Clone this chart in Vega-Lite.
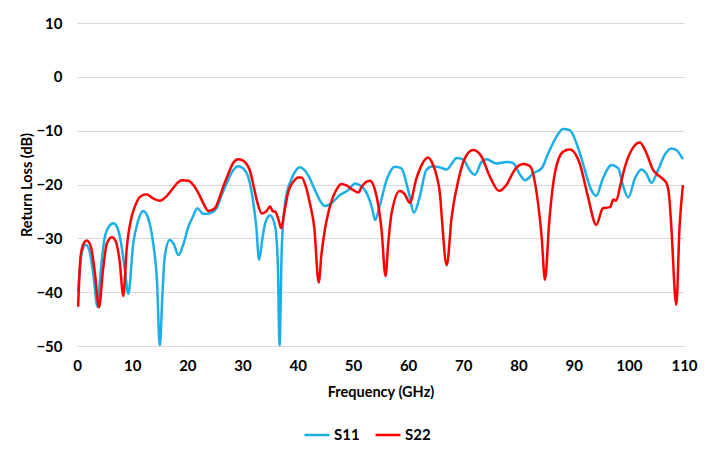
{
  "$schema": "https://vega.github.io/schema/vega-lite/v6.json",
  "width": 607,
  "height": 323,
  "autosize": {"type": "none"},
  "padding": {"left": 77, "top": 23, "right": 20, "bottom": 107},
  "background": "white",
  "config": {
    "view": {"stroke": null},
    "font": "Lato",
    "axis": {"labelFont": "Lato", "titleFont": "Lato", "labelFontWeight": "bold", "titleFontWeight": "bold", "labelFontSize": 15, "titleFontSize": 14.5, "labelColor": "#000000", "titleColor": "#000000", "gridColor": "#D9D9D9", "gridWidth": 1.2}
  },
  "datasets": {
    "s11": [
      {"f":0.2,"db":-40},{"f":0.8,"db":-33},{"f":1.6,"db":-31.2},{"f":2.3,"db":-32.5},{"f":3.0,"db":-37},{"f":3.7,"db":-42.7},{"f":4.3,"db":-36},{"f":5.0,"db":-30},{"f":5.8,"db":-27.8},{"f":6.6,"db":-27.2},{"f":7.3,"db":-28},{"f":8.0,"db":-31},{"f":8.7,"db":-36},{"f":9.3,"db":-40.3},{"f":10.2,"db":-30.9},{"f":11.0,"db":-27},{"f":12.0,"db":-24.9},{"f":12.8,"db":-26},{"f":13.8,"db":-30.9},{"f":14.5,"db":-38},{"f":15.0,"db":-50},{"f":15.5,"db":-40},{"f":15.9,"db":-33.4},{"f":16.8,"db":-30.3},{"f":17.5,"db":-31},{"f":18.4,"db":-33.1},{"f":19.3,"db":-31},{"f":20.2,"db":-27.8},{"f":21.0,"db":-26},{"f":21.8,"db":-24.4},{"f":22.9,"db":-25.5},{"f":24.4,"db":-25.2},{"f":25.3,"db":-24.4},{"f":26.2,"db":-22},{"f":27.1,"db":-19.8},{"f":28.2,"db":-17.5},{"f":29.2,"db":-16.6},{"f":30.1,"db":-17},{"f":31.0,"db":-18.5},{"f":31.9,"db":-23},{"f":32.5,"db":-28},{"f":33.0,"db":-34},{"f":33.6,"db":-30},{"f":34.1,"db":-27.2},{"f":35.0,"db":-25.7},{"f":35.9,"db":-27.8},{"f":36.4,"db":-35},{"f":36.7,"db":-50},{"f":37.1,"db":-32},{"f":37.7,"db":-23.5},{"f":38.9,"db":-18.9},{"f":39.6,"db":-17.5},{"f":40.4,"db":-16.8},{"f":41.2,"db":-17.3},{"f":42.2,"db":-18.9},{"f":43.1,"db":-21},{"f":44.0,"db":-22.9},{"f":44.9,"db":-24.0},{"f":46.1,"db":-23.5},{"f":47.6,"db":-22},{"f":49.2,"db":-21},{"f":50.4,"db":-19.8},{"f":51.2,"db":-20.1},{"f":52.0,"db":-20.8},{"f":52.8,"db":-22.3},{"f":53.5,"db":-24.5},{"f":54.0,"db":-26.6},{"f":54.9,"db":-23.8},{"f":56.1,"db":-19.2},{"f":57.0,"db":-17.2},{"f":57.6,"db":-16.7},{"f":58.8,"db":-17.0},{"f":60.0,"db":-21.0},{"f":61.1,"db":-25.2},{"f":62.1,"db":-22.3},{"f":63.3,"db":-17.3},{"f":64.5,"db":-16.6},{"f":65.7,"db":-16.8},{"f":67.0,"db":-17.2},{"f":68.0,"db":-16},{"f":68.8,"db":-15.1},{"f":70.0,"db":-15.4},{"f":71.2,"db":-17.4},{"f":72.1,"db":-18.2},{"f":73.3,"db":-15.8},{"f":74.2,"db":-15.3},{"f":76.0,"db":-16.1},{"f":77.8,"db":-15.8},{"f":79.0,"db":-16.0},{"f":80.3,"db":-18.2},{"f":81.2,"db":-19.2},{"f":82.7,"db":-17.9},{"f":84.2,"db":-17.0},{"f":85.4,"db":-14.2},{"f":86.9,"db":-11.1},{"f":88.1,"db":-9.7},{"f":89.3,"db":-9.9},{"f":89.9,"db":-10.8},{"f":90.8,"db":-13.2},{"f":91.7,"db":-16.1},{"f":92.5,"db":-19},{"f":93.2,"db":-21.0},{"f":94.1,"db":-22.1},{"f":95.3,"db":-18.9},{"f":96.9,"db":-16.4},{"f":98.1,"db":-17.0},{"f":99.0,"db":-20.4},{"f":99.9,"db":-22.4},{"f":101.1,"db":-18.9},{"f":102.3,"db":-17.2},{"f":103.2,"db":-18},{"f":104.1,"db":-19.7},{"f":105.3,"db":-17.3},{"f":106.5,"db":-14.5},{"f":107.7,"db":-13.3},{"f":108.6,"db":-13.6},{"f":109.8,"db":-15.3}
    ],
    "s22": [
      {"f":0.2,"db":-42.7},{"f":0.6,"db":-34},{"f":1.0,"db":-31.5},{"f":1.75,"db":-30.4},{"f":2.5,"db":-31.5},{"f":3.2,"db":-36},{"f":4.0,"db":-42.8},{"f":4.7,"db":-36},{"f":5.4,"db":-31},{"f":6.3,"db":-29.8},{"f":7.0,"db":-30.5},{"f":7.7,"db":-34},{"f":8.4,"db":-40.7},{"f":9.0,"db":-32},{"f":9.9,"db":-26},{"f":10.6,"db":-23.8},{"f":11.4,"db":-22.3},{"f":12.6,"db":-21.8},{"f":13.8,"db":-22.6},{"f":15.0,"db":-23},{"f":16.2,"db":-22.2},{"f":17.4,"db":-20.7},{"f":18.3,"db":-19.6},{"f":19.0,"db":-19.2},{"f":20.2,"db":-19.3},{"f":21.0,"db":-20},{"f":22.0,"db":-21.6},{"f":22.9,"db":-23.5},{"f":23.8,"db":-24.9},{"f":25.0,"db":-24.4},{"f":25.8,"db":-22.5},{"f":26.5,"db":-20.4},{"f":27.5,"db":-17.8},{"f":28.3,"db":-16},{"f":29.2,"db":-15.3},{"f":30.0,"db":-15.5},{"f":31.3,"db":-17.3},{"f":31.9,"db":-19.8},{"f":32.6,"db":-23},{"f":33.5,"db":-25.4},{"f":34.3,"db":-25},{"f":35.0,"db":-24.1},{"f":35.5,"db":-25},{"f":35.9,"db":-25.0},{"f":36.5,"db":-26.5},{"f":37.0,"db":-28.1},{"f":37.6,"db":-25},{"f":38.3,"db":-21.3},{"f":39.2,"db":-19.5},{"f":40.1,"db":-18.7},{"f":40.7,"db":-18.7},{"f":41.5,"db":-20.5},{"f":42.2,"db":-23.5},{"f":43.0,"db":-28},{"f":43.8,"db":-38.2},{"f":44.3,"db":-33},{"f":44.9,"db":-28.5},{"f":45.6,"db":-25},{"f":46.4,"db":-22.3},{"f":47.1,"db":-20.8},{"f":47.9,"db":-19.9},{"f":48.9,"db":-20.2},{"f":50.0,"db":-21.0},{"f":51.0,"db":-21.5},{"f":51.6,"db":-20.4},{"f":53.1,"db":-19.3},{"f":54.0,"db":-21.0},{"f":54.7,"db":-24.5},{"f":55.2,"db":-28.5},{"f":55.9,"db":-37},{"f":56.4,"db":-31},{"f":57.0,"db":-25.4},{"f":58.5,"db":-21.2},{"f":59.4,"db":-21.8},{"f":60.3,"db":-23.4},{"f":61.5,"db":-18.9},{"f":62.5,"db":-16.3},{"f":63.6,"db":-15.0},{"f":64.5,"db":-16.3},{"f":65.2,"db":-18.5},{"f":65.8,"db":-22},{"f":66.1,"db":-26},{"f":67.0,"db":-35},{"f":67.9,"db":-26},{"f":69.1,"db":-19.2},{"f":70.3,"db":-15.1},{"f":71.8,"db":-13.6},{"f":73.3,"db":-14.8},{"f":74.8,"db":-18.5},{"f":76.5,"db":-21.2},{"f":77.8,"db":-20.1},{"f":79.3,"db":-17.3},{"f":80.9,"db":-16.2},{"f":82.1,"db":-16.6},{"f":83.3,"db":-21.6},{"f":84.2,"db":-29.7},{"f":84.8,"db":-37.7},{"f":85.6,"db":-26.6},{"f":86.6,"db":-17.9},{"f":88.1,"db":-13.9},{"f":89.3,"db":-13.5},{"f":90.3,"db":-14.3},{"f":91.1,"db":-16.1},{"f":92.6,"db":-22.3},{"f":94.1,"db":-27.5},{"f":95.3,"db":-24.4},{"f":96.6,"db":-24.2},{"f":97.2,"db":-22.8},{"f":97.7,"db":-23},{"f":98.5,"db":-20},{"f":99.3,"db":-16.7},{"f":100.8,"db":-13.1},{"f":102.0,"db":-12.2},{"f":103.2,"db":-14.2},{"f":104.4,"db":-17.3},{"f":105.6,"db":-18.5},{"f":106.8,"db":-19.7},{"f":107.3,"db":-22},{"f":107.7,"db":-27.8},{"f":108.6,"db":-42.4},{"f":109.2,"db":-27.8},{"f":109.8,"db":-20.1}
    ]
  },
  "layer": [
    {
      "data": {"name": "s11"},
      "mark": {"type": "line", "strokeWidth": 2.5, "clip": true, "interpolate": "monotone"},
      "encoding": {
        "x": {"field": "f", "type": "quantitative"},
        "y": {"field": "db", "type": "quantitative"},
        "color": {"datum": "S11"}
      }
    },
    {
      "data": {"name": "s22"},
      "mark": {"type": "line", "strokeWidth": 2.5, "clip": true, "interpolate": "monotone"},
      "encoding": {
        "x": {"field": "f", "type": "quantitative"},
        "y": {"field": "db", "type": "quantitative"},
        "color": {"datum": "S22"}
      }
    }
  ],
  "encoding": {
    "x": {"field": "f", "type": "quantitative", "title": "Frequency (GHz)",
      "scale": {"domain": [0, 110], "nice": false, "zero": false},
      "axis": {"values": [0,10,20,30,40,50,60,70,80,90,100,110], "grid": false, "ticks": false, "domain": true, "domainColor": "#D9D9D9", "domainWidth": 1.2, "labelPadding": 12, "titlePadding": 12, "labelFlush": false}},
    "y": {"field": "db", "type": "quantitative", "title": "Return Loss (dB)",
      "scale": {"domain": [-50, 10], "nice": false, "zero": false},
      "axis": {"values": [-50,-40,-30,-20,-10,0,10], "grid": true, "ticks": false, "domain": false, "labelPadding": 15, "titlePadding": 1}},
    "color": {"type": "nominal",
      "scale": {"domain": ["S11", "S22"], "range": ["#1AAFE6", "#FF0000"]},
      "legend": {"title": null, "orient": "none", "legendX": 226, "legendY": 398, "direction": "horizontal", "symbolType": "stroke", "symbolSize": 625, "symbolStrokeWidth": 2.5, "labelFont": "Lato", "labelFontWeight": "bold", "labelFontSize": 15, "labelColor": "#000000", "columnPadding": 10, "labelOffset": 3}}
  }
}
